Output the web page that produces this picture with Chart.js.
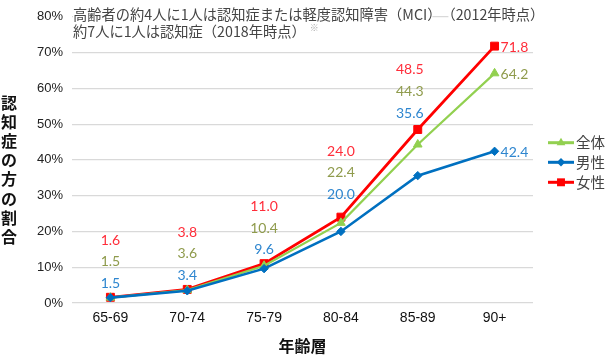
<!DOCTYPE html>
<html><head><meta charset="utf-8">
<script src="https://cdn.jsdelivr.net/npm/chart.js@4/dist/chart.umd.min.js"></script>
<style>html,body{margin:0;padding:0;background:#fff}#wrap{width:605px;height:357px;position:relative}canvas{display:block}</style>
</head><body><div id="wrap"><canvas id="c" width="605" height="357"></canvas></div>
<script>
const categories = ['65-69','70-74','75-79','80-84','85-89','90+'];
const totalValues = [1.5, 3.6, 10.4, 22.4, 44.3, 64.2];
const maleValues = [1.5, 3.4, 9.6, 20.0, 35.6, 42.4];
const femaleValues = [1.6, 3.8, 11.0, 24.0, 48.5, 71.8];
const seriesNames = ['全体', '男性', '女性'];
const yMax = 80;
const yStep = 10;
const titleLine1a = '高齢者の約4人に1人は認知症または軽度認知障害（MCI）';
const titleLine1b = '（2012年時点）';
const titleLine2 = '約7人に1人は認知症（2018年時点）';
const noteMark = '※';
const yTitle = '認知症の方の割合';
const xTitle = '年齢層';

const JP = '"Noto Sans CJK JP", "Noto Sans", sans-serif';
const LAT = '"Liberation Sans", Arial, sans-serif';
const lineColors = ['#92D050', '#0070C0', '#FF0000'];
const labelColors = ['#8f9b4c', '#2e86cf', '#ff2d3a'];
const pointStyles = ['triangle', 'rectRot', 'rect'];
const pointRadii = [5, 4.2, 5.6];

function drawMarker(ctx, style, r, x, y, color) {
  ctx.save();
  ctx.fillStyle = color;
  ctx.beginPath();
  if (style === 'rect') {
    const s = r * Math.SQRT1_2;
    ctx.rect(x - s, y - s, 2 * s, 2 * s);
  } else if (style === 'rectRot') {
    ctx.moveTo(x, y - r); ctx.lineTo(x + r, y); ctx.lineTo(x, y + r); ctx.lineTo(x - r, y); ctx.closePath();
  } else {
    ctx.moveTo(x, y - r); ctx.lineTo(x + r * 0.87, y + r * 0.5); ctx.lineTo(x - r * 0.87, y + r * 0.5); ctx.closePath();
  }
  ctx.fill();
  ctx.restore();
}

const decor = {
  id: 'decor',
  afterDraw(chart) {
    const ctx = chart.ctx;
    const xs = chart.scales.x, ys = chart.scales.y;
    const area = chart.chartArea;
    ctx.save();
    // title text in the plot
    ctx.font = '14.25px ' + JP;
    ctx.textBaseline = 'middle';
    ctx.textAlign = 'left';
    const tx = area.left + 1;
    const w1 = ctx.measureText(titleLine1a).width;
    const w1b = ctx.measureText(titleLine1b).width;
    ctx.fillStyle = '#fff';
    ctx.fillRect(tx, 7, w1 - 9, 16);
    ctx.fillRect(tx + w1 + 7, 7, w1b, 16);
    ctx.fillStyle = '#444';
    ctx.fillText(titleLine1a, tx, 15);
    ctx.fillText(titleLine1b, tx + w1, 15);
    ctx.fillText(titleLine2, tx, 31.5);
    const w2 = ctx.measureText(titleLine2).width;
    ctx.font = '9px ' + JP;
    ctx.fillStyle = '#aaa';
    ctx.fillText(noteMark, tx + w2 + 4, 28);

    // data labels
    const series = [maleValues, totalValues, femaleValues];
    const cols = [labelColors[1], labelColors[0], labelColors[2]];
    const offs = [14, 14, 14, 22.6, 16.5];
    const dxs = [0, 0, 0, 0, -8];
    ctx.font = '14px Lato, ' + LAT;
    ctx.textBaseline = 'middle';
    categories.forEach((c, i) => {
      const x = xs.getPixelForValue(i);
      if (i < categories.length - 1) {
        const top = Math.max(maleValues[i], totalValues[i], femaleValues[i]);
        const yb = ys.getPixelForValue(top) - offs[i];
        ctx.textAlign = 'center';
        series.forEach((s, k) => {
          ctx.fillStyle = cols[k];
          ctx.fillText(s[i].toFixed(1), x + dxs[i], yb - k * 21.6);
        });
      } else {
        ctx.textAlign = 'left';
        series.forEach((s, k) => {
          ctx.fillStyle = cols[k];
          ctx.fillText(s[i].toFixed(1), x + 6, ys.getPixelForValue(s[i]) + 1);
        });
      }
    });

    // legend
    const ly = [142.7, 162.3, 182.3];
    seriesNames.forEach((n, k) => {
      ctx.strokeStyle = lineColors[k];
      ctx.lineWidth = 3;
      ctx.beginPath();
      ctx.moveTo(548, ly[k]); ctx.lineTo(574, ly[k]); ctx.stroke();
      drawMarker(ctx, pointStyles[k], pointRadii[k], 561, ly[k], lineColors[k]);
      ctx.fillStyle = '#444';
      ctx.font = '14.5px ' + JP;
      ctx.textAlign = 'left';
      ctx.fillText(n, 576, ly[k]);
    });

    // axis titles
    ctx.fillStyle = '#111';
    ctx.font = 'bold 16px ' + JP;
    ctx.textAlign = 'center';
    ctx.fillText(xTitle, (area.left + area.right) / 2, 346);
    Array.from(yTitle).forEach((ch, i) => {
      ctx.fillText(ch, 9, 102.6 + i * 19.2);
    });
    ctx.restore();
  }
};

const datasets = [totalValues, maleValues, femaleValues].map((vals, k) => ({
  label: seriesNames[k],
  data: vals,
  borderColor: lineColors[k],
  backgroundColor: lineColors[k],
  pointBackgroundColor: lineColors[k],
  pointBorderColor: lineColors[k],
  pointBorderWidth: 1,
  pointStyle: pointStyles[k],
  pointRadius: pointRadii[k],
  borderWidth: k === 0 ? 2.2 : (k === 2 ? 2.8 : 2.6),
  tension: 0,
  order: [1, 0, 2][k]
}));

new Chart(document.getElementById('c'), {
  type: 'line',
  data: { labels: categories, datasets },
  options: {
    responsive: false,
    animation: false,
    devicePixelRatio: 1,
    layout: { padding: { top: 12, right: 72, left: 0, bottom: 0 } },
    plugins: { legend: { display: false }, tooltip: { enabled: false } },
    scales: {
      x: {
        offset: true,
        grid: { display: false, drawTicks: false },
        border: { display: false },
        ticks: { font: { size: 14, family: LAT }, color: '#111', padding: 7, maxRotation: 0 },
        afterFit(s) { s.height = 54; }
      },
      y: {
        min: 0, max: yMax,
        grid: { color: '#d9d9d9', lineWidth: 1.2, drawTicks: false },
        border: { display: false },
        ticks: { stepSize: yStep, callback: v => v + '%', font: { size: 13, family: LAT }, color: '#222', padding: 9 },
        afterFit(s) { s.width = 72; }
      }
    }
  },
  plugins: [decor]
});
</script>
</body></html>
